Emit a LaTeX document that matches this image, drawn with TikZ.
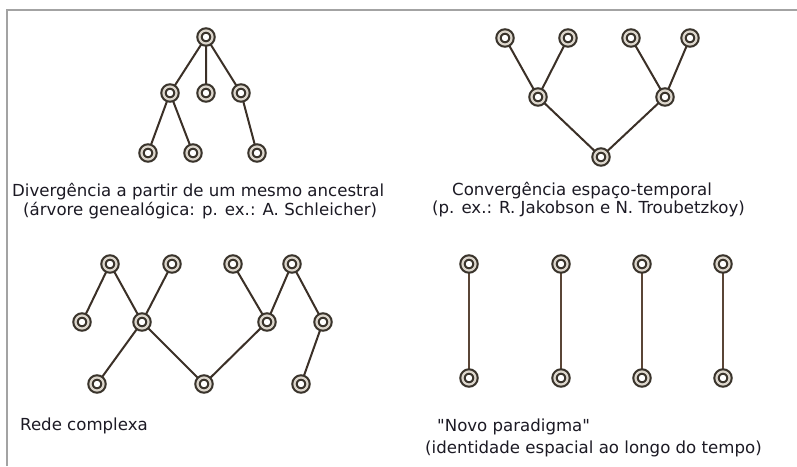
\documentclass[tikz,border=0pt]{standalone}
\usepackage{fontspec}
\newfontfamily\capfont{DejaVu Sans}
\usetikzlibrary{backgrounds}
\definecolor{ringdark}{HTML}{3A342C}
\definecolor{ringgap}{HTML}{DCD6CC}
\definecolor{linkdark}{HTML}{3B3027}
\definecolor{linkthin}{HTML}{5A4536}
\definecolor{framegray}{HTML}{A3A3A3}
\definecolor{captext}{HTML}{1C1A24}
\tikzset{
  lang/.style={circle, inner sep=0pt, minimum size=13pt, fill=white,
    draw=ringdark, line width=2.1pt, double=ringgap, double distance=2.2pt},
  link/.style={draw=linkdark, line width=2pt},
  thinlink/.style={draw=linkthin, line width=1.6pt},
  caption/.style={anchor=base west, inner sep=0pt, text=captext,
    font=\capfont\fontsize{16.6}{19}\selectfont},
}
\begin{document}
\begin{tikzpicture}[x=1pt, y=-1pt]
\useasboundingbox (0,0) rectangle (797,466);

% --- divergence tree
\node[lang] (d0) at (206,37) {};
\node[lang] (d1) at (170,93) {};
\node[lang] (d2) at (206,93) {};
\node[lang] (d3) at (241,93) {};
\node[lang] (d4) at (148,153) {};
\node[lang] (d5) at (193,153) {};
\node[lang] (d6) at (257,153) {};

% --- convergence tree
\node[lang] (c0) at (505,38) {};
\node[lang] (c1) at (568,38) {};
\node[lang] (c2) at (631,38) {};
\node[lang] (c3) at (690,38) {};
\node[lang] (c4) at (538,97) {};
\node[lang] (c5) at (665,97) {};
\node[lang] (c6) at (601,157) {};

% --- complex network
\node[lang] (r0) at (110,264) {};
\node[lang] (r1) at (172,264) {};
\node[lang] (r2) at (233,264) {};
\node[lang] (r3) at (292,264) {};
\node[lang] (r4) at (82,322) {};
\node[lang] (r5) at (142,322) {};
\node[lang] (r6) at (267,322) {};
\node[lang] (r7) at (323,322) {};
\node[lang] (r8) at (97,384) {};
\node[lang] (r9) at (204,384) {};
\node[lang] (r10) at (301,384) {};

% --- new paradigm
\node[lang] (p0) at (469,264) {};
\node[lang] (p1) at (561,264) {};
\node[lang] (p2) at (642,264) {};
\node[lang] (p3) at (723,264) {};
\node[lang] (q0) at (469,378) {};
\node[lang] (q1) at (561,378) {};
\node[lang] (q2) at (642,378) {};
\node[lang] (q3) at (723,378) {};

\begin{pgfonlayer}{background}
  % white page and the frame on its top and left sides
  \fill[white] (0,0) rectangle (797,466);
  \draw[framegray, line width=1.6pt] (7,466) -- (7,10) -- (797,10);
  % connectors
  \draw[link] (d0) -- (d1) (d0) -- (d2) (d0) -- (d3)
              (d1) -- (d4) (d1) -- (d5) (d3) -- (d6);
  \draw[link] (c0) -- (c4) (c1) -- (c4) (c2) -- (c5) (c3) -- (c5)
              (c4) -- (c6) (c5) -- (c6);
  \draw[link] (r0) -- (r4) (r0) -- (r5) (r1) -- (r5)
              (r5) -- (r8) (r5) -- (r9) (r9) -- (r6)
              (r2) -- (r6) (r3) -- (r6) (r3) -- (r7) (r7) -- (r10);
  \draw[thinlink] (p0) -- (q0) (p1) -- (q1) (p2) -- (q2) (p3) -- (q3);
\end{pgfonlayer}

% --- captions
\node[caption] (t1) at (12,196.5) {Divergência a partir de um mesmo ancestral};
\node[caption] (t2) at (23,215) {(árvore genealógica: p. ex.: A. Schleicher)};
\node[caption] (t3) at (452,195) {Convergência espaço-temporal};
\node[caption] (t4) at (432,213.5) {(p. ex.: R. Jakobson e N. Troubetzkoy)};
\node[caption] (t5) at (20,430) {Rede complexa};
\node[caption] (t6) at (437,431) {"Novo paradigma"};
\node[caption] (t7) at (425,453) {(identidade espacial ao longo do tempo)};
\end{tikzpicture}
\end{document}
